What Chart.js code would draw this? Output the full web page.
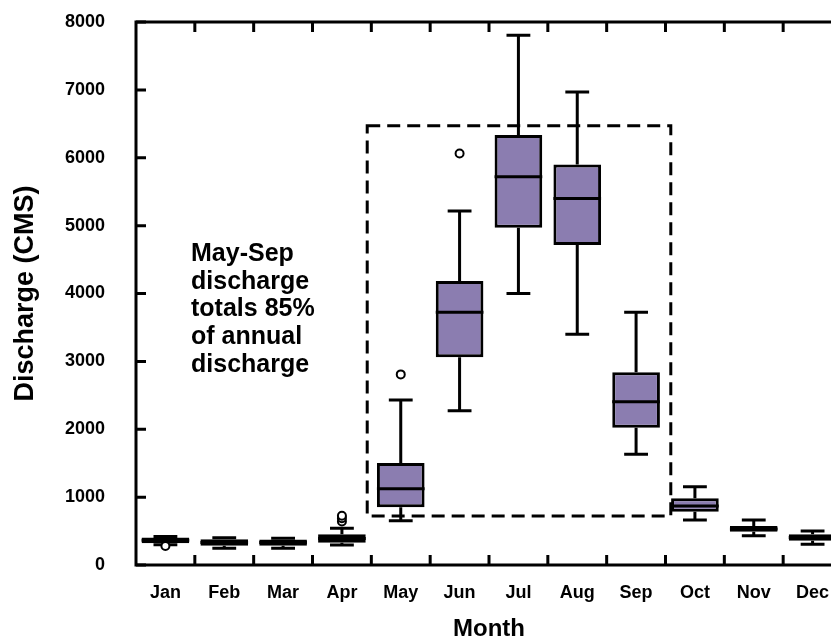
<!DOCTYPE html>
<html>
<head>
<meta charset="utf-8">
<script src="https://cdn.jsdelivr.net/npm/chart.js@4.4.0/dist/chart.umd.min.js"></script>
<style>
  html, body { margin: 0; padding: 0; background: #fff; overflow: hidden; }
</style>
</head>
<body>
<canvas id="myChart" width="850" height="644"></canvas>
<script>
// monthly discharge box plot data (CMS)
var months = ['Jan', 'Feb', 'Mar', 'Apr', 'May', 'Jun', 'Jul', 'Aug', 'Sep', 'Oct', 'Nov', 'Dec'];
var lowerWhisker = [300, 246, 246, 295, 652, 2273, 4001, 3398, 1630, 663, 432, 305];
var q1 = [320, 285, 285, 328, 850, 3059, 4968, 4713, 2022, 785, 490, 358];
var median = [365, 330, 330, 390, 1124, 3722, 5719, 5400, 2405, 869, 530, 405];
var q3 = [405, 380, 375, 452, 1502, 4183, 6337, 5901, 2838, 982, 575, 452];
var upperWhisker = [420, 400, 395, 540, 2430, 5214, 7806, 6970, 3722, 1153, 663, 500];
var outlierMonth = ['Jan', 'Apr', 'Apr', 'Apr', 'May', 'Jun'];
var outlierValue = [280, 640, 690, 725, 2808, 6063];
var yTicks = [0, 1000, 2000, 3000, 4000, 5000, 6000, 7000, 8000];
// dashed frame around the May-Sep boxes (category index / value)
var frameX = [3.43, 8.59];
var frameY = [722, 6472];
var noteLines = ['May-Sep', 'discharge', 'totals 85%', 'of annual', 'discharge'];

var font = '"Liberation Sans", Arial, sans-serif';
var purple = '#8b7db0';

var boxPlugin = {
  id: 'boxParts',
  beforeDatasetsDraw: function (chart) {
    var ctx = chart.ctx, x = chart.scales.x, y = chart.scales.y;
    var meta = chart.getDatasetMeta(0);
    ctx.save();
    ctx.strokeStyle = '#000';
    ctx.lineWidth = 3;
    // dashed frame
    ctx.setLineDash([13, 7]);
    var l = x.getPixelForValue(frameX[0]), r = x.getPixelForValue(frameX[1]);
    var t = y.getPixelForValue(frameY[1]), b = y.getPixelForValue(frameY[0]);
    ctx.strokeRect(l, t, r - l, b - t);
    ctx.setLineDash([]);
    // whiskers
    for (var i = 0; i < months.length; i++) {
      var bar = meta.data[i];
      var cx = bar.x, half = bar.width * 0.25;
      var yHi = y.getPixelForValue(upperWhisker[i]);
      var yLo = y.getPixelForValue(lowerWhisker[i]);
      ctx.beginPath();
      ctx.moveTo(cx, y.getPixelForValue(q3[i]));
      ctx.lineTo(cx, yHi);
      ctx.moveTo(cx - half, yHi);
      ctx.lineTo(cx + half, yHi);
      ctx.moveTo(cx, y.getPixelForValue(q1[i]));
      ctx.lineTo(cx, yLo);
      ctx.moveTo(cx - half, yLo);
      ctx.lineTo(cx + half, yLo);
      ctx.stroke();
    }
    ctx.restore();
  },
  afterDatasetDraw: function (chart, args) {
    if (args.index !== 0) return;
    var ctx = chart.ctx, y = chart.scales.y;
    var meta = chart.getDatasetMeta(0);
    ctx.save();
    ctx.strokeStyle = '#000';
    ctx.lineWidth = 3;
    for (var i = 0; i < months.length; i++) {
      var bar = meta.data[i];
      var my = y.getPixelForValue(median[i]);
      ctx.beginPath();
      ctx.moveTo(bar.x - bar.width / 2, my);
      ctx.lineTo(bar.x + bar.width / 2, my);
      ctx.stroke();
    }
    ctx.restore();
  },
  afterDraw: function (chart) {
    var ctx = chart.ctx, x = chart.scales.x, y = chart.scales.y;
    var a = chart.chartArea;
    ctx.save();
    ctx.strokeStyle = '#000';
    ctx.lineWidth = 3;
    ctx.beginPath();
    ctx.moveTo(a.right, a.top);
    ctx.lineTo(a.left, a.top);
    ctx.lineTo(a.left, a.bottom);
    ctx.lineTo(a.right, a.bottom);
    ctx.lineTo(a.right, a.top);
    ctx.stroke();
    // inward ticks
    ctx.beginPath();
    yTicks.forEach(function (v) {
      var py = y.getPixelForValue(v);
      ctx.moveTo(a.left, py); ctx.lineTo(a.left + 10, py);
      ctx.moveTo(a.right, py); ctx.lineTo(a.right - 10, py);
    });
    for (var i = 0; i < months.length - 1; i++) {
      var px = x.getPixelForValue(i + 0.5);
      ctx.moveTo(px, a.bottom); ctx.lineTo(px, a.bottom - 10);
      ctx.moveTo(px, a.top); ctx.lineTo(px, a.top + 10);
    }
    ctx.stroke();
    // note text
    ctx.fillStyle = '#000';
    ctx.font = 'bold 25px ' + font;
    ctx.textAlign = 'left';
    ctx.textBaseline = 'alphabetic';
    var tx = x.getPixelForValue(0.435);
    var ty = y.getPixelForValue(4480);
    noteLines.forEach(function (s, k) {
      ctx.fillText(s, tx, ty + k * 27.7);
    });
    ctx.restore();
  }
};

var ctx = document.getElementById('myChart').getContext('2d');
var chart = new Chart(ctx, {
  type: 'bar',
  data: {
    labels: months,
    datasets: [{
      label: 'box',
      data: months.map(function (m, i) { return [q1[i], q3[i]]; }),
      backgroundColor: purple,
      borderColor: '#000',
      borderWidth: 3,
      borderSkipped: false,
      categoryPercentage: 0.81,
      barPercentage: 1,
      order: 2
    }, {
      type: 'scatter',
      label: 'outliers',
      data: outlierMonth.map(function (m, i) { return { x: m, y: outlierValue[i] }; }),
      pointRadius: 4,
      pointBackgroundColor: '#fff',
      pointBorderColor: '#000',
      pointBorderWidth: 2,
      order: 1
    }]
  },
  options: {
    responsive: false,
    animation: false,
    layout: { padding: { top: 22, right: 8, left: 0, bottom: 0 } },
    plugins: { legend: { display: false }, tooltip: { enabled: false } },
    scales: {
      x: {
        type: 'category',
        offset: true,
        grid: { display: false, drawTicks: true, tickLength: 17 },
        border: { display: false },
        ticks: { color: '#000', font: { family: font, size: 18, weight: 'bold' }, padding: 0 },
        title: { display: true, text: 'Month', color: '#000', font: { family: font, size: 24, weight: 'bold' }, padding: { top: 0, bottom: 0 } },
        afterFit: function (s) { s.height = 79; }
      },
      y: {
        min: 0,
        max: 8000,
        grid: { display: false, drawTicks: true, tickLength: 31 },
        border: { display: false },
        ticks: {
          stepSize: 1000,
          color: '#000',
          font: { family: font, size: 18, weight: 'bold' },
          padding: 0,
          callback: function (v) { return String(v); }
        },
        title: { display: true, text: 'Discharge (CMS)', color: '#000', font: { family: font, size: 27, weight: 'bold' }, padding: { top: 9, bottom: 0 } },
        afterFit: function (s) { s.width = 136; }
      }
    }
  },
  plugins: [boxPlugin]
});
</script>
</body>
</html>
